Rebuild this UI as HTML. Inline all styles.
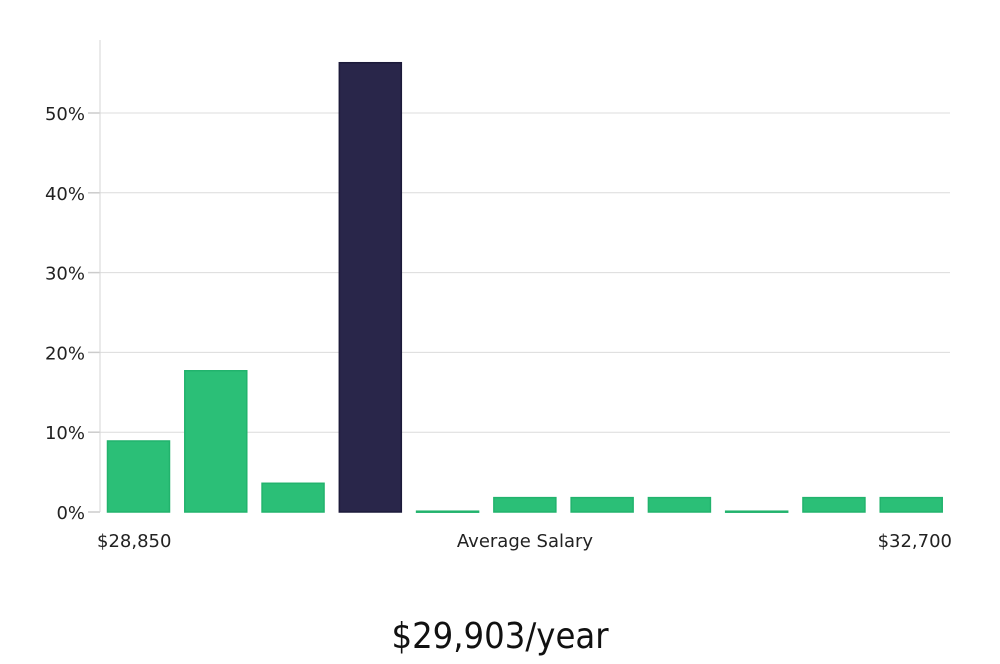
<!DOCTYPE html>
<html><head><meta charset="utf-8"><style>
body{margin:0;background:#fff;width:1000px;height:660px;overflow:hidden;font-family:"DejaVu Sans","Liberation Sans",sans-serif}
</style></head><body>
<svg id="chart" width="1000" height="660" xmlns="http://www.w3.org/2000/svg"></svg>
<script>
const categories=["b1","b2","b3","b4","b5","b6","b7","b8","b9","b10","b11"];
const values=[8.9,17.7,3.6,56.3,0.1,1.8,1.8,1.8,0.1,1.8,1.8];
const highlight=[false,false,false,true,false,false,false,false,false,false,false];
const yTicks=[0,10,20,30,40,50];
const yTickLabels=["0%","10%","20%","30%","40%","50%"];
const xLabels=["$28,850","Average Salary","$32,700"];
const title="$29,903/year";
const NS="http://www.w3.org/2000/svg";
const svg=document.getElementById('chart');
const X0=100,X1=950,Y0=512,PX10=79.8;
const y=v=>Y0-v*PX10/10;
const slot=(X1-X0)/categories.length;
const x=i=>X0+i*slot;
function mk(t,a,p){const e=document.createElementNS(NS,t);for(const k in a)e.setAttribute(k,a[k]);(p||svg).appendChild(e);return e;}
const grid=mk('g',{});


yTicks.forEach((t,i)=>{
  if(t>0){const l=mk('line',{x1:X0,x2:X1,y1:y(t),y2:y(t),stroke:'#dcdcdc','stroke-width':1},grid);
  
  }
  const tk=mk('line',{x1:88,x2:X0,y1:y(t),y2:y(t),stroke:'#cccccc','stroke-width':1.5});
  
  
  const tx=mk('text',{x:85,y:y(t)+7,'text-anchor':'end','font-size':18,fill:'#222'});
  tx.textContent=yTickLabels[i];
  
  
});
const ax=mk('line',{x1:X0,x2:X0,y1:40,y2:Y0,stroke:'#d6d6d6','stroke-width':1});


values.forEach((v,i)=>{
  const top=y(v);
  const r=mk('rect',{x:x(i)+7.5,y:top,width:62,height:Math.max(Y0-top,1),
    fill:highlight[i]?'#29264a':'#2bbf77',stroke:highlight[i]?'#1c1a3a':'#22b36d','stroke-width':1.5});
  
  
});
const xl=[[97,'start'],[525,'middle'],[952,'end']];
xLabels.forEach((s,i)=>{
  const t=mk('text',{x:xl[i][0],y:547,'text-anchor':xl[i][1],'font-size':18,fill:'#222'});
  t.textContent=s;
  
  
});
const tt=mk('text',{x:500,y:648,'text-anchor':'middle','font-size':36,fill:'#111','font-family':'"Liberation Sans Narrow","DejaVu Sans Condensed","Liberation Sans",sans-serif'});
tt.textContent=title;


</script>
</body></html>
